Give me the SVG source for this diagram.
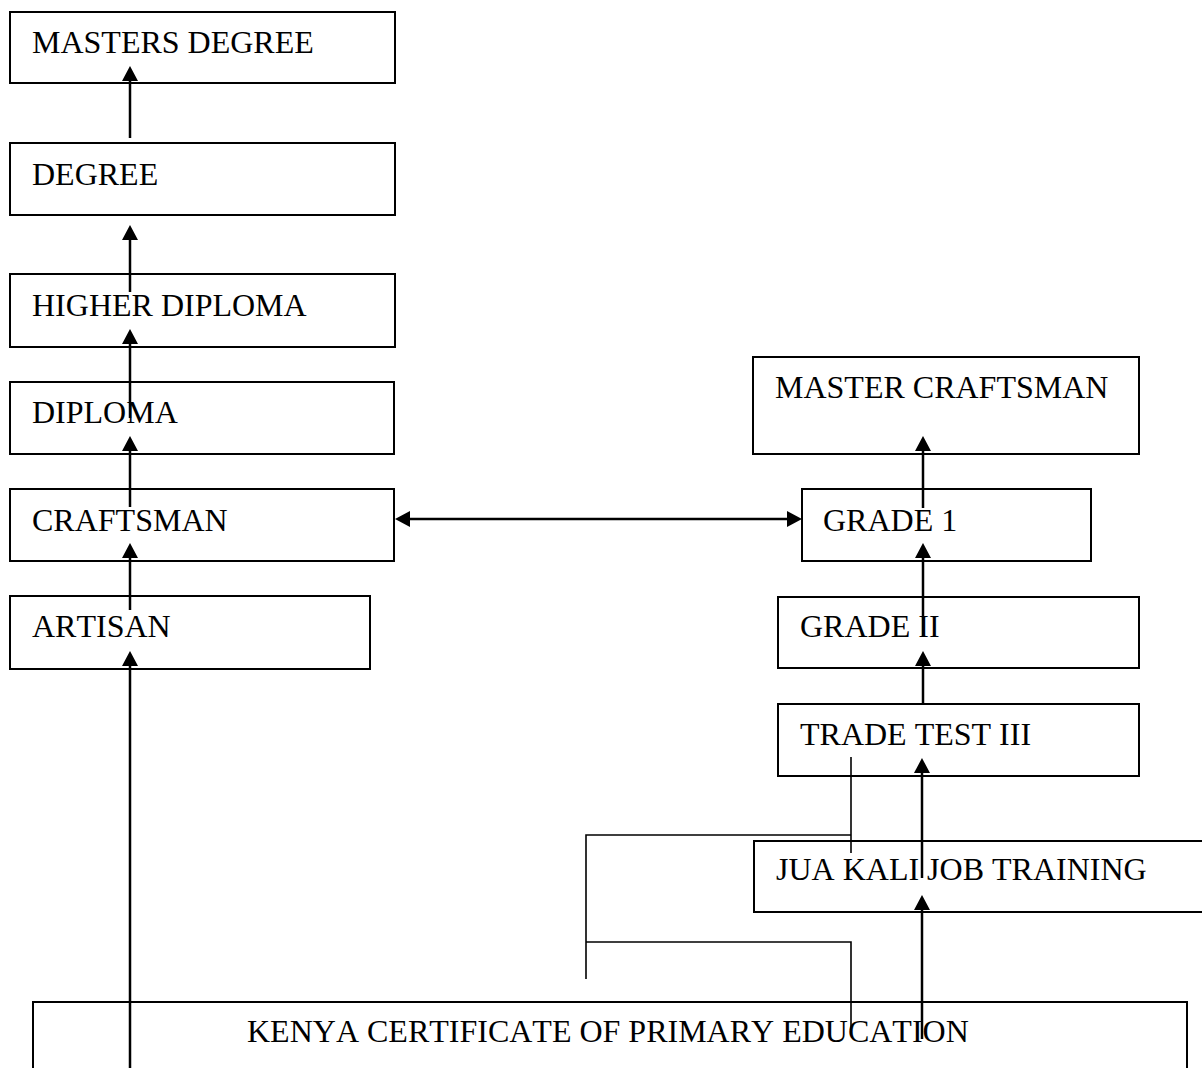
<svg xmlns="http://www.w3.org/2000/svg" width="1202" height="1068" viewBox="0 0 1202 1068">
  <style>
    .box { fill: #ffffff; stroke: #000000; stroke-width: 2; }
    .lbl { font-family: "Liberation Serif", "Times New Roman", serif; font-size: 32px; fill: #000000; font-kerning: none; }
    .arr { fill: none; stroke: #000000; stroke-width: 2.5; marker-end: url(#ah); }
    .thin { fill: none; stroke: #000000; stroke-width: 1.6; }
  </style>
  <defs>
    <marker id="ah" markerUnits="userSpaceOnUse" markerWidth="16" markerHeight="18" refX="0" refY="8" orient="auto">
      <path d="M0,0 L15,8 L0,16 z" fill="#000000"/>
    </marker>
    <marker id="ahs" markerUnits="userSpaceOnUse" markerWidth="16" markerHeight="18" refX="0" refY="8" orient="auto-start-reverse">
      <path d="M0,0 L15,8 L0,16 z" fill="#000000"/>
    </marker>
  </defs>
  <rect width="1202" height="1068" fill="#ffffff"/>

  <g id="n-masters-degree"><rect class="box" x="10" y="12" width="385" height="71"/><text class="lbl" x="32" y="53">MASTERS DEGREE</text></g>
  <g id="n-degree"><rect class="box" x="10" y="143" width="385" height="72"/><text class="lbl" x="32" y="185">DEGREE</text></g>
  <g id="n-higher-diploma"><rect class="box" x="10" y="274" width="385" height="73"/><text class="lbl" x="32" y="316">HIGHER DIPLOMA</text></g>
  <g id="n-diploma"><rect class="box" x="10" y="382" width="384" height="72"/><text class="lbl" x="32" y="423">DIPLOMA</text></g>
  <g id="n-craftsman"><rect class="box" x="10" y="489" width="384" height="72"/><text class="lbl" x="32" y="531">CRAFTSMAN</text></g>
  <g id="n-artisan"><rect class="box" x="10" y="596" width="360" height="73"/><text class="lbl" x="32" y="637">ARTISAN</text></g>
  <g id="n-master-craftsman"><rect class="box" x="753" y="357" width="386" height="97"/><text class="lbl" x="775" y="398">MASTER CRAFTSMAN</text></g>
  <g id="n-grade1"><rect class="box" x="802" y="489" width="289" height="72"/><text class="lbl" x="823" y="531">GRADE 1</text></g>
  <g id="n-grade2"><rect class="box" x="778" y="597" width="361" height="71"/><text class="lbl" x="800" y="637">GRADE II</text></g>
  <g id="n-trade-test"><rect class="box" x="778" y="704" width="361" height="72"/><text class="lbl" x="800" y="745">TRADE TEST III</text></g>
  <g id="n-jua-kali"><rect class="box" x="754" y="841" width="460" height="71"/><text class="lbl" x="776" y="880">JUA KALI JOB TRAINING</text></g>
  <g id="n-kcpe"><rect class="box" x="33" y="1002" width="1154" height="80"/><text class="lbl" x="247" y="1042">KENYA CERTIFICATE OF PRIMARY EDUCATION</text></g>

  <g id="connectors">
    <path class="arr" d="M130,138 L130,81"/>
    <path class="arr" d="M130,292 L130,240"/>
    <path class="arr" d="M130,418 L130,344"/>
    <path class="arr" d="M130,507 L130,451"/>
    <path class="arr" d="M130,610 L130,558"/>
    <path class="arr" d="M130,1068 L130,666"/>
    <path class="arr" d="M923,508 L923,451"/>
    <path class="arr" d="M923,637 L923,558"/>
    <path class="arr" d="M923,704 L923,666"/>
    <path class="arr" d="M922,878 L922,773"/>
    <path class="arr" d="M922,1039 L922,910"/>
    <path d="M410,519 L787,519" fill="none" stroke="#000000" stroke-width="2.5" marker-start="url(#ahs)" marker-end="url(#ah)"/>
    <path class="thin" d="M851,757 L851,853"/>
    <path class="thin" d="M851,835 L586,835 L586,979"/>
    <path class="thin" d="M586,942 L851,942 L851,1033"/>
  </g>
</svg>
